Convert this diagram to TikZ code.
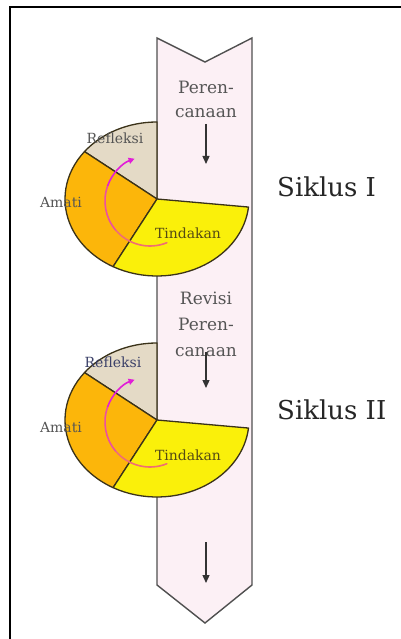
\documentclass[tikz,border=0pt]{standalone}
\usepackage{fontspec}
\setmainfont{DejaVu Serif}
\usetikzlibrary{arrows.meta}
\definecolor{bannerfill}{RGB}{252,240,245}
\definecolor{bannerline}{RGB}{80,80,80}
\definecolor{pieline}{RGB}{58,50,25}
\definecolor{reflfill}{RGB}{228,218,198}
\definecolor{amatifill}{RGB}{252,182,10}
\definecolor{tindfill}{RGB}{250,240,10}
\definecolor{loopA}{RGB}{240,110,115}
\definecolor{loopB}{RGB}{236,80,160}
\definecolor{loopC}{RGB}{225,30,215}
\definecolor{txtgray}{RGB}{85,85,85}
\definecolor{txtolive}{RGB}{85,75,20}
\tikzset{
  sector/.style={draw=pieline,line width=1.3pt,line join=round},
  lbl/.style={inner sep=0pt,font=\fontsize{14}{16}\selectfont},
  plantext/.style={inner sep=0pt,align=center,text=txtgray},
  downarrow/.style={-{Triangle[length=8pt,width=7pt]},line width=1.3pt,draw=black!80},
  loopline/.style={line width=1.6pt,line cap=round},
  siklus/.style={anchor=west,inner sep=0pt,font=\fontsize{26}{30}\selectfont,text=black!85},
}
\begin{document}
\begin{tikzpicture}[x=1pt,y=-1pt]
\useasboundingbox (0,0) rectangle (401,639);
% frame
\draw[line width=1.4pt] (10,639) -- (10,7) -- (401,7);
% banner
\draw[bannerline,fill=bannerfill,line width=1.4pt] (157,38) -- (205,62) -- (252,38) -- (252,585) -- (205,623) -- (157,585) -- cycle;
% cycle I
\coordinate (c1) at (157,199);
\coordinate (o1) at (150,201);
\draw[sector,fill=reflfill] (c1) -- ++(90:92pt and 77pt) arc[start angle=90,end angle=142,x radius=92pt,y radius=77pt] -- cycle;
\draw[sector,fill=amatifill] (c1) -- ++(142:92pt and 77pt) arc[start angle=142,end angle=241.5,x radius=92pt,y radius=77pt] -- cycle;
\draw[sector,fill=tindfill] (c1) -- ++(241.5:92pt and 77pt) arc[start angle=241.5,end angle=354,x radius=92pt,y radius=77pt] -- cycle;
\draw[loopline,loopA] ([shift={(-68:45pt)}]o1) arc[start angle=-68,end angle=-140,radius=45pt];
\draw[loopline,loopB] ([shift={(-140:45pt)}]o1) arc[start angle=-140,end angle=-200,radius=45pt];
\draw[loopline,loopC,-{Triangle[length=6pt,width=6pt]}] ([shift={(-200:45pt)}]o1) arc[start angle=-200,end angle=-250,radius=45pt];
\node[lbl,text=txtgray] (refl1) at (115,138) {Refleksi};
\node[lbl,text=txtgray] (amati1) at (61,202) {Amati};
\node[lbl,text=txtolive] (tind1) at (188,233) {Tindakan};
\node[plantext,font=\fontsize{17}{24}\selectfont] (plan1) at (206,99) {Peren-\\canaan};
\coordinate (a1s) at (206,124);
\coordinate (a1e) at (206,164);
\draw[downarrow] (a1s) -- (a1e);
\node[siklus] (sik1) at (277,187) {Siklus I};
% cycle II
\coordinate (c2) at (157,420);
\coordinate (o2) at (150,422);
\draw[sector,fill=reflfill] (c2) -- ++(90:92pt and 77pt) arc[start angle=90,end angle=142,x radius=92pt,y radius=77pt] -- cycle;
\draw[sector,fill=amatifill] (c2) -- ++(142:92pt and 77pt) arc[start angle=142,end angle=241.5,x radius=92pt,y radius=77pt] -- cycle;
\draw[sector,fill=tindfill] (c2) -- ++(241.5:92pt and 77pt) arc[start angle=241.5,end angle=354,x radius=92pt,y radius=77pt] -- cycle;
\draw[loopline,loopA] ([shift={(-68:45pt)}]o2) arc[start angle=-68,end angle=-140,radius=45pt];
\draw[loopline,loopB] ([shift={(-140:45pt)}]o2) arc[start angle=-140,end angle=-200,radius=45pt];
\draw[loopline,loopC,-{Triangle[length=6pt,width=6pt]}] ([shift={(-200:45pt)}]o2) arc[start angle=-200,end angle=-250,radius=45pt];
\node[lbl,text={rgb,255:red,60;green,65;blue,105}] (refl2) at (113,362) {Refleksi};
\node[lbl,text=txtgray] (amati2) at (61,427) {Amati};
\node[lbl,text=txtolive] (tind2) at (188,455) {Tindakan};
\node[plantext,font=\fontsize{17}{26}\selectfont] (plan2) at (206,324) {Revisi\\Peren-\\canaan};
\coordinate (a2s) at (206,352);
\coordinate (a2e) at (206,388);
\draw[downarrow] (a2s) -- (a2e);
\node[siklus] (sik2) at (277,410) {Siklus II};
% end of banner
\coordinate (a3s) at (206,542);
\coordinate (a3e) at (206,583);
\draw[downarrow] (a3s) -- (a3e);
\end{tikzpicture}
\end{document}
